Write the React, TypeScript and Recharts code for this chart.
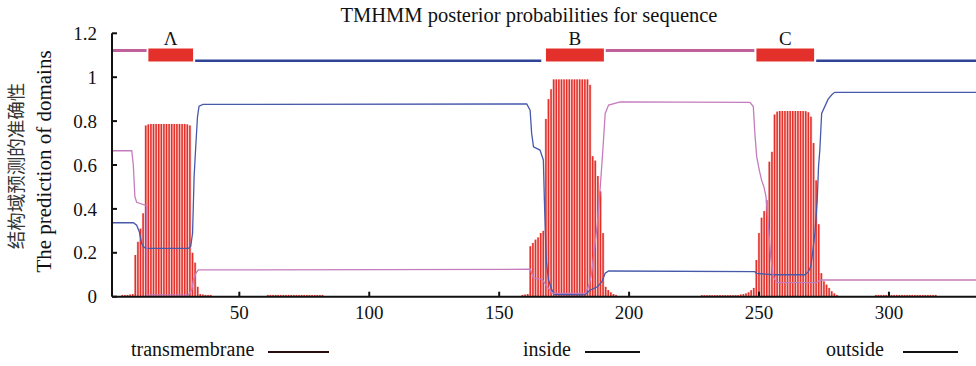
import React from 'react';
import {
  ComposedChart,
  Bar,
  Line,
  XAxis,
  YAxis,
  ReferenceArea,
  ReferenceLine,
} from 'recharts';

const SERIF = '"Liberation Serif", "Times New Roman", "Noto Sans CJK SC", serif';
const CJK = '"Noto Sans CJK SC", "Liberation Serif", serif';

// ---- data ----
const xMin = 1;
const xMax = 333.5;
const xTicks = [50, 100, 150, 200, 250, 300];
const yTicks = [0, 0.2, 0.4, 0.6, 0.8, 1, 1.2];

// transmembrane posterior probability per residue (non-zero residues only)
const tmResidue = [
  5, 6, 7, 8, 9,
  10, 11, 12, 13, 14, 15, 16, 17, 18, 19, 20, 21, 22, 23, 24, 25, 26, 27, 28, 29, 30, 31,
  32, 33, 34, 35, 36, 37, 38, 39,
  61, 62, 63, 64, 65, 66, 67, 68, 69, 70, 71, 72, 73, 74, 75, 76, 77, 78, 79, 80, 81, 82,
  159, 160, 161, 162, 163, 164, 165, 166, 167, 168, 169, 170, 171, 172, 173, 174, 175, 176,
  177, 178, 179, 180, 181, 182, 183, 184, 185, 186, 187, 188, 189, 190, 191, 192, 193, 194, 195,
  228, 229, 230, 231, 232, 233, 234, 235, 236, 237, 238, 239, 240, 241, 242,
  243, 244, 245, 246, 247, 248, 249, 250, 251, 252, 253, 254, 255, 256, 257, 258, 259, 260,
  261, 262, 263, 264, 265, 266, 267, 268, 269, 270, 271, 272, 273, 274, 275, 276, 277, 278, 279, 280,
  295, 296, 297, 298, 299, 300, 301, 302, 303, 304, 305, 306, 307, 308, 309, 310, 311, 312,
  313, 314, 315, 316, 317, 318,
];
const tmProb = [
  0.008, 0.008, 0.008, 0.01, 0.012,
  0.19, 0.25, 0.31, 0.38, 0.78, 0.785, 0.787, 0.787, 0.787, 0.787, 0.787, 0.787, 0.787, 0.787, 0.787, 0.787, 0.787, 0.787, 0.787, 0.787, 0.785, 0.78,
  0.2, 0.155, 0.045, 0.012, 0.01, 0.008, 0.008, 0.008,
  0.008, 0.008, 0.008, 0.008, 0.008, 0.008, 0.008, 0.008, 0.008, 0.008, 0.008, 0.008, 0.008, 0.008, 0.008, 0.008, 0.008, 0.008, 0.008, 0.008, 0.008, 0.008,
  0.008, 0.01, 0.012, 0.23, 0.245, 0.26, 0.27, 0.29, 0.3, 0.81, 0.9, 0.945, 0.99, 0.99, 0.99, 0.99, 0.99, 0.99,
  0.99, 0.99, 0.99, 0.99, 0.99, 0.99, 0.99, 0.99, 0.965, 0.64, 0.62, 0.55, 0.48, 0.29, 0.045, 0.03, 0.02, 0.012, 0.008,
  0.007, 0.007, 0.007, 0.007, 0.007, 0.007, 0.007, 0.007, 0.007, 0.007, 0.007, 0.007, 0.007, 0.007, 0.007,
  0.01, 0.012, 0.015, 0.02, 0.03, 0.04, 0.167, 0.29, 0.36, 0.39, 0.44, 0.615, 0.66, 0.83, 0.843, 0.846, 0.846, 0.846,
  0.846, 0.846, 0.846, 0.846, 0.846, 0.846, 0.846, 0.845, 0.84, 0.82, 0.7, 0.53, 0.33, 0.107, 0.07, 0.055, 0.04, 0.025, 0.015, 0.008,
  0.008, 0.008, 0.008, 0.008, 0.008, 0.008, 0.008, 0.008, 0.008, 0.008, 0.008, 0.008, 0.008, 0.008, 0.008, 0.008, 0.008, 0.008,
  0.008, 0.008, 0.008, 0.008, 0.008, 0.008,
];

// inside probability curve (read at breakpoints)
const insidePos = [
  1, 9.2, 10.5, 11.5, 12.4, 13, 14, 30.4, 31.3, 32, 32.6, 33.3, 33.9, 34.5, 36,
  160.6, 161.9, 162.5, 163.2, 165.7, 167, 167.4, 168.1, 169, 170.3, 171.5, 183, 185, 187.8, 189.5, 190.8, 192.1,
  248.4, 249.1, 255.5, 267.7, 269, 269.9, 270.6, 271.5, 272.4, 272.9, 273.4, 274.1, 275.3, 276.6, 278, 279.1, 333.5,
];
const insideProb = [
  0.337, 0.337, 0.326, 0.296, 0.243, 0.228, 0.22, 0.22, 0.23, 0.289, 0.547, 0.699, 0.82, 0.868, 0.876,
  0.878, 0.85, 0.744, 0.683, 0.668, 0.623, 0.44, 0.167, 0.076, 0.03, 0.01, 0.008, 0.03, 0.045, 0.068, 0.107, 0.117,
  0.114, 0.106, 0.1, 0.1, 0.114, 0.137, 0.198, 0.289, 0.44, 0.592, 0.668, 0.835, 0.866, 0.9, 0.92, 0.931, 0.931,
];

// outside probability curve (read at breakpoints)
const outsidePos = [
  1, 8.6, 9.2, 9.8, 10.5, 14.3, 14.6, 30.4, 31.7, 32.3, 33.3, 34.2,
  162, 163.2, 166.4, 170.4, 183.1, 184.5, 185.5, 186.5, 187.8, 188.9, 189.9, 190.8, 192.1, 196.6,
  246.5, 247.8, 248.4, 249.1, 250.1, 251, 251.9, 252.7, 253.6, 254.5, 255.5, 256.8, 272.2, 273.5, 333.5,
];
const outsideProb = [
  0.665, 0.665, 0.6, 0.456, 0.43, 0.415, 0.008, 0.008, 0.03, 0.076, 0.107, 0.122,
  0.125, 0.084, 0.08, 0.015, 0.015, 0.05, 0.1, 0.2, 0.334, 0.5, 0.668, 0.835, 0.873, 0.888,
  0.885, 0.866, 0.744, 0.638, 0.577, 0.53, 0.5, 0.455, 0.319, 0.182, 0.091, 0.064, 0.064, 0.076, 0.076,
];

// predicted topology (top line)
const helixNames = ['Λ', 'B', 'C'];
const helixStart = [15, 168, 249];
const helixEnd = [32.2, 190.3, 271.2];
const insideSegStart = [33, 272];
const insideSegEnd = [166.2, 333.5];
const outsideSegStart = [1, 191];
const outsideSegEnd = [14.3, 248.2];
const topoInsideLevel = 1.075;
const topoOutsideLevel = 1.122;
const helixBottom = 1.072;
const helixTop = 1.131;

const legendLabels = ['transmembrane', 'inside', 'outside'];

const tmData = tmResidue.map((r, i) => ({ pos: r, tm: tmProb[i] }));
const insideData = insidePos.map((p, i) => ({ pos: p, inside: insideProb[i] }));
const outsideData = outsidePos.map((p, i) => ({ pos: p, outside: outsideProb[i] }));

// ---- styles ----
const RED = '#e4302b';
const PINK_BG = '#f6c6c3';
const BLUE = '#4659aa';
const MAGENTA = '#c57cbd';
const TOP_BLUE = '#2f4496';
const TOP_PINK = '#c0609d';
const INK = '#111';

const TmBar = (props: any) => {
  const { x, y, width, height } = props;
  if (!height || height <= 0) return null;
  const cx = x + width / 2;
  return (
    <g>
      <rect x={cx - 1.3} y={y} width={2.6} height={height} fill={PINK_BG} />
      <rect x={cx - 0.8} y={y} width={1.5} height={height} fill={RED} />
    </g>
  );
};

const YTick = (props: any) => {
  const { x, y, payload } = props;
  return (
    <g>
      <line x1={x + 15} x2={x + 20} y1={y} y2={y} stroke={INK} strokeWidth={2} />
      <text x={x} y={y} dy="0.35em" textAnchor="end" fontSize={19} fontFamily={SERIF} fill={INK}>
        {payload.value}
      </text>
    </g>
  );
};

const XTick = (props: any) => {
  const { x, y, payload } = props;
  return (
    <g>
      <line x1={x} x2={x} y1={y - 9} y2={y - 14} stroke={INK} strokeWidth={2} />
      <text x={x} y={y} dy="0.71em" textAnchor="middle" fontSize={19} fontFamily={SERIF} fill={INK}>
        {payload.value}
      </text>
    </g>
  );
};

export default function App() {
  return (
    <div style={{ position: 'absolute', left: 0, top: 0, width: 976, height: 366, background: '#fff' }}>
      <ComposedChart
        width={976}
        height={366}
        data={tmData}
        margin={{ top: 33.3, right: 0, bottom: 39.3, left: 0 }}
      >
        <XAxis
          dataKey="pos"
          type="number"
          domain={[xMin, xMax]}
          ticks={xTicks}
          allowDataOverflow
          axisLine={{ stroke: INK, strokeWidth: 2 }}
          tickLine={false}
          tickSize={5}
          tickMargin={4}
          tick={XTick}
          height={30}
          interval={0}
        />
        <YAxis
          type="number"
          domain={[0, 1.2]}
          ticks={yTicks}
          allowDataOverflow
          width={112}
          axisLine={{ stroke: INK, strokeWidth: 2 }}
          tickLine={false}
          tickSize={5}
          tickMargin={10}
          tick={YTick}
          interval={0}
        />
        <Bar dataKey="tm" barSize={2.6} shape={TmBar} isAnimationActive={false} />
        <Line
          data={insideData}
          dataKey="inside"
          type="linear"
          stroke={BLUE}
          strokeWidth={1.3}
          dot={false}
          isAnimationActive={false}
        />
        <Line
          data={outsideData}
          dataKey="outside"
          type="linear"
          stroke={MAGENTA}
          strokeWidth={1.3}
          dot={false}
          isAnimationActive={false}
        />
        {outsideSegStart.map((s, i) => (
          <ReferenceLine
            key={'o' + i}
            segment={[
              { x: s, y: topoOutsideLevel },
              { x: outsideSegEnd[i], y: topoOutsideLevel },
            ]}
            stroke={TOP_PINK}
            strokeWidth={3}
          />
        ))}
        {insideSegStart.map((s, i) => (
          <ReferenceLine
            key={'i' + i}
            segment={[
              { x: s, y: topoInsideLevel },
              { x: insideSegEnd[i], y: topoInsideLevel },
            ]}
            stroke={TOP_BLUE}
            strokeWidth={2.5}
          />
        ))}
        {helixStart.map((s, i) => (
          <ReferenceArea
            key={'h' + i}
            x1={s}
            x2={helixEnd[i]}
            y1={helixBottom}
            y2={helixTop}
            fill={RED}
            fillOpacity={1}
            stroke="none"
            label={{
              value: helixNames[i],
              position: 'top',
              offset: 3,
              fill: INK,
              fontSize: 19,
              fontFamily: SERIF,
            }}
          />
        ))}
      </ComposedChart>
      <svg
        width={976}
        height={366}
        style={{ position: 'absolute', left: 0, top: 0, pointerEvents: 'none' }}
      >
        <text x={529} y={22} textAnchor="middle" fontSize={20.5} fontFamily={SERIF} fill={INK}>
          TMHMM posterior probabilities for sequence
        </text>
        <text
          x={23}
          y={166}
          transform="rotate(-90 23 166)"
          textAnchor="middle"
          fontSize={18.5}
          fontFamily={CJK}
          fill="#333"
        >
          结构域预测的准确性
        </text>
        <text
          x={51}
          y={161.5}
          transform="rotate(-90 51 161.5)"
          textAnchor="middle"
          fontSize={21}
          fontFamily={SERIF}
          fill={INK}
        >
          The prediction of domains
        </text>
        <text x={131} y={356} fontSize={20} fontFamily={SERIF} fill={INK}>
          {legendLabels[0]}
        </text>
        <line x1={268} x2={329} y1={352} y2={352} stroke="#2a0c0c" strokeWidth={2} />
        <text x={523} y={356} fontSize={20} fontFamily={SERIF} fill={INK}>
          {legendLabels[1]}
        </text>
        <line x1={585} x2={640} y1={352} y2={352} stroke={INK} strokeWidth={2} />
        <text x={826} y={356} fontSize={20} fontFamily={SERIF} fill={INK}>
          {legendLabels[2]}
        </text>
        <line x1={903} x2={958} y1={352} y2={352} stroke={INK} strokeWidth={2} />
      </svg>
    </div>
  );
}
